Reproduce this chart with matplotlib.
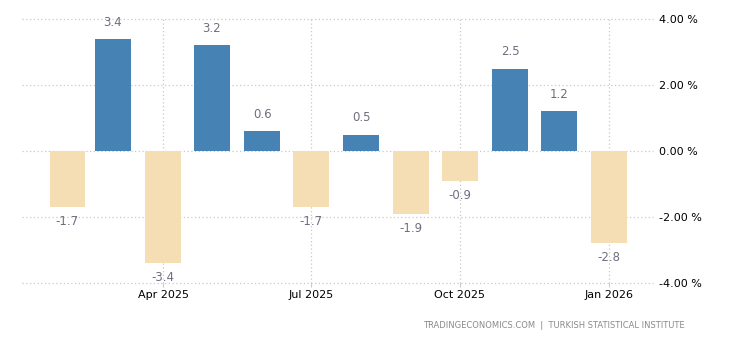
import matplotlib
matplotlib.use("Agg")
import matplotlib.pyplot as plt
import matplotlib.dates as mdates
import numpy as np
import pandas as pd

months = ["2025-02-01", "2025-03-01", "2025-04-01", "2025-05-01", "2025-06-01", "2025-07-01",
          "2025-08-01", "2025-09-01", "2025-10-01", "2025-11-01", "2025-12-01", "2026-01-01"]
values = [-1.7, 3.4, -3.4, 3.2, 0.6, -1.7, 0.5, -1.9, -0.9, 2.5, 1.2, -2.8]
value_labels = ["-1.7", "3.4", "-3.4", "3.2", "0.6", "-1.7", "0.5", "-1.9", "-0.9", "2.5", "1.2", "-2.8"]
xtick_dates = ["2025-04-01", "2025-07-01", "2025-10-01", "2026-01-01"]
xtick_labels = ["Apr 2025", "Jul 2025", "Oct 2025", "Jan 2026"]
ytick_values = [-4, -2, 0, 2, 4]
ytick_labels = ["-4.00 %", "-2.00 %", "0.00 %", "2.00 %", "4.00 %"]
source_text = "TRADINGECONOMICS.COM  |  TURKISH STATISTICAL INSTITUTE"

pos_color = "#4682B4"
neg_color = "#F5DEB3"
label_color = "#6E6E80"

dates = pd.to_datetime(months)
xnum = mdates.date2num(dates)

fig = plt.figure(figsize=(7.3, 3.4), dpi=100)
ax = fig.add_axes([22 / 730, (340 - 283) / 340, (653 - 22) / 730, (283 - 19) / 340])

colors = [pos_color if v >= 0 else neg_color for v in values]
ax.bar(xnum, values, width=22, color=colors, zorder=2)

ax.set_ylim(-4, 4)
ax.set_xlim(mdates.date2num(pd.Timestamp("2025-01-04")), mdates.date2num(pd.Timestamp("2026-01-28")))

for x, v, lab in zip(xnum, values, value_labels):
    if v >= 0:
        ax.annotate(lab, (x, v), xytext=(0, 12), textcoords="offset points", ha="center", va="center",
                    fontsize=8.5, color=label_color)
    else:
        ax.annotate(lab, (x, v), xytext=(0, -10.5), textcoords="offset points", ha="center", va="center",
                    fontsize=8.5, color=label_color)

ax.set_xticks(mdates.date2num(pd.to_datetime(xtick_dates)))
ax.set_xticklabels(xtick_labels, fontsize=8, color="black")
ax.set_yticks(ytick_values)
ax.set_yticklabels(ytick_labels, fontsize=8, color="black")
ax.yaxis.tick_right()
ax.tick_params(axis="y", length=0, pad=4)
ax.tick_params(axis="x", length=3, color="#cccccc", pad=2)

for s in ax.spines.values():
    s.set_visible(False)

ax.grid(True, axis="both", linestyle=(0, (1, 2)), color="#c8c8c8", linewidth=0.9, zorder=0)
ax.set_axisbelow(True)
for gl in ax.get_ygridlines() + ax.get_xgridlines():
    gl.set_clip_on(False)

fig.text(685 / 730, 1 - 325 / 340, source_text, ha="right", va="center", fontsize=6, color="#8a8a8a")

fig.savefig("out.png", dpi=100)
